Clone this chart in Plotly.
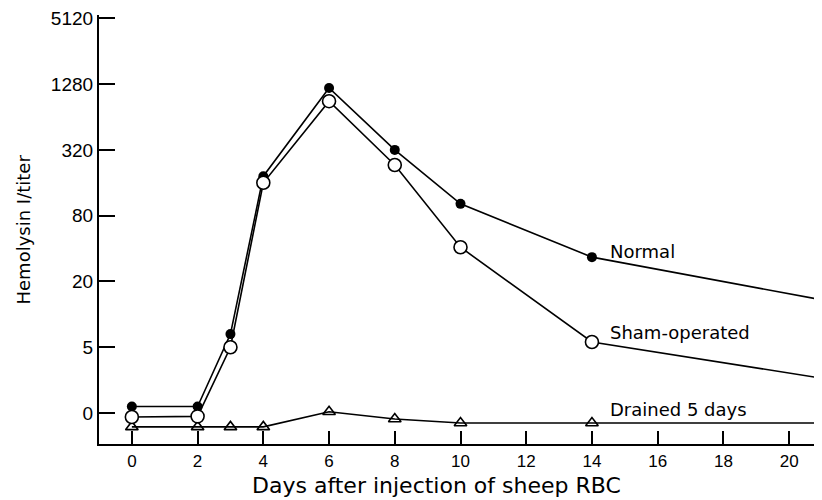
import plotly.graph_objects as go

# Days after injection
days = [0, 2, 3, 4, 6, 8, 10, 14, 21]

# Titer values expressed as dilution steps on the chart's axis
# (step 0 = titer "0", step 1 = 5, step 2 = 20, ... each step = x4)
normal_steps = [0.10, 0.10, 1.20, 3.60, 4.94, 4.00, 3.18, 2.37, 1.72]
sham_steps = [-0.06, -0.05, 1.00, 3.50, 4.74, 3.77, 2.52, 1.08, 0.53]
drained_steps = [-0.21, -0.21, -0.21, -0.21, 0.02, -0.09, -0.15, -0.15, -0.15]

y_tick_steps = [0, 1, 2, 3, 4, 5, 6]
y_tick_labels = ["0", "5", "20", "80", "320", "1280", "5120"]
x_tick_vals = [0, 2, 4, 6, 8, 10, 12, 14, 16, 18, 20]

FONT = "Liberation Sans, Arial, sans-serif"
FONT_WIDE = "DejaVu Sans, Verdana, sans-serif"

fig = go.Figure()

fig.add_trace(go.Scatter(
    x=days, y=drained_steps, mode="lines+markers",
    line=dict(color="black", width=1.6),
    marker=dict(symbol="triangle-up-open", size=11, color="black",
                line=dict(width=1.6)),
    cliponaxis=False, showlegend=False))

fig.add_trace(go.Scatter(
    x=days, y=normal_steps, mode="lines+markers",
    line=dict(color="black", width=1.6),
    marker=dict(symbol="circle", size=10, color="black"),
    cliponaxis=False, showlegend=False))

fig.add_trace(go.Scatter(
    x=days, y=sham_steps, mode="lines+markers",
    line=dict(color="black", width=1.6),
    marker=dict(symbol="circle", size=13, color="white",
                line=dict(color="black", width=1.6)),
    cliponaxis=False, showlegend=False))

ann_font = dict(family=FONT_WIDE, size=18, color="black")
fig.add_annotation(x=14.5, y=2.46, text="Normal", showarrow=False,
                   xanchor="left", yanchor="middle", font=ann_font)
fig.add_annotation(x=14.5, y=1.23, text="Sham-operated", showarrow=False,
                   xanchor="left", yanchor="middle", font=ann_font)
fig.add_annotation(x=14.5, y=0.05, text="Drained 5 days", showarrow=False,
                   xanchor="left", yanchor="middle", font=ann_font)

# Axis titles placed as annotations to match the original's positions
fig.add_annotation(x=9.28, xref="x", y=0, yref="paper", yshift=-41,
                   text="Days after injection of sheep RBC", showarrow=False,
                   xanchor="center", yanchor="middle",
                   font=dict(family=FONT_WIDE, size=22, color="black"))
fig.add_annotation(x=0, xref="paper", xshift=-76, y=0.5, yref="paper",
                   text="Hemolysin I/titer", showarrow=False, textangle=-90,
                   xanchor="center", yanchor="middle",
                   font=dict(family=FONT_WIDE, size=18, color="black"))

fig.update_layout(
    width=814, height=492,
    margin=dict(l=91, r=0, t=7, b=56, autoexpand=False),
    paper_bgcolor="white", plot_bgcolor="white",
    font=dict(family=FONT, size=16, color="black"),
)

fig.update_xaxes(
    range=[-1, 21], tickmode="array", tickvals=x_tick_vals,
    ticks="inside", ticklen=13, tickwidth=1.6, tickcolor="black",
    showgrid=False, zeroline=False, automargin=False,
    showline=True, linecolor="black", linewidth=2.2,
    tickfont=dict(family=FONT, size=17), ticklabeloverflow="allow",
)

fig.update_yaxes(
    range=[-0.47, 6.05], tickmode="array", tickvals=y_tick_steps,
    ticktext=y_tick_labels,
    ticks="inside", ticklen=16, tickwidth=1.8, tickcolor="black",
    showgrid=False, zeroline=False, automargin=False,
    showline=True, linecolor="black", linewidth=2.2,
    tickfont=dict(family=FONT, size=19), ticklabeloverflow="allow",
)

fig.write_html("out.html")
